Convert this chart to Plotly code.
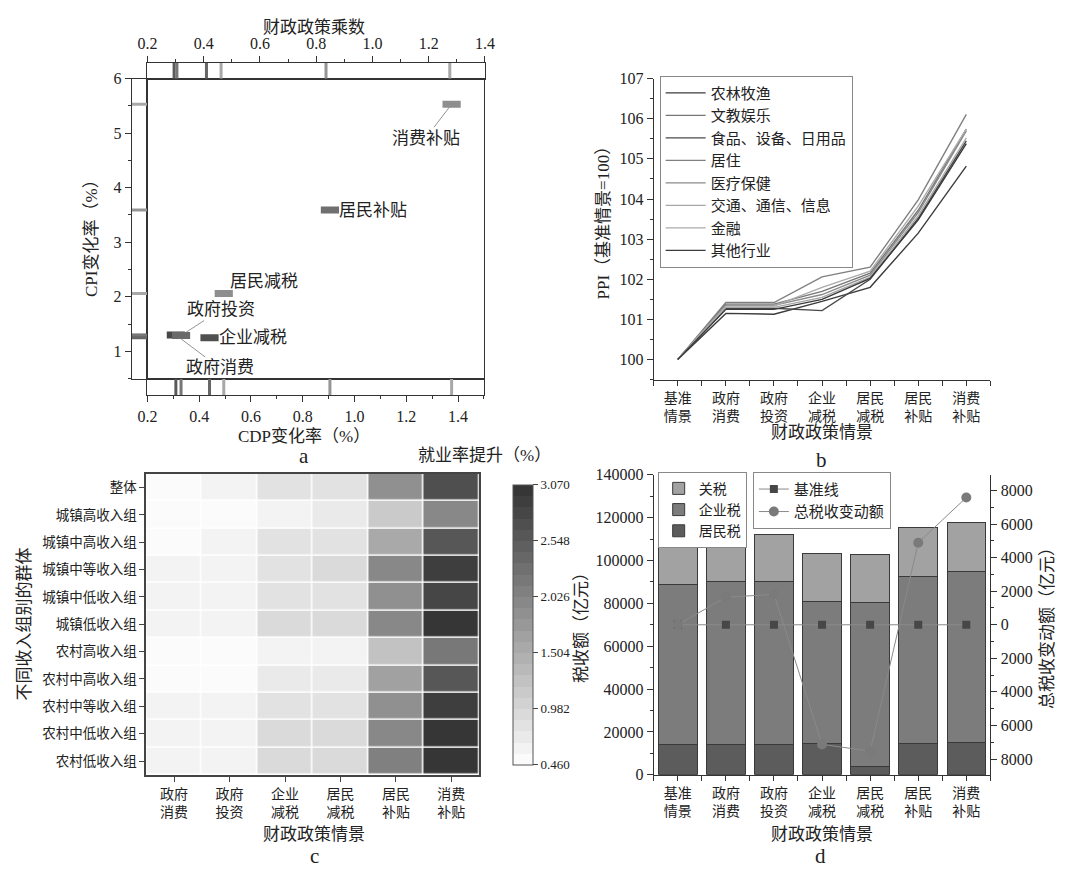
import plotly.graph_objects as go

W, H = 1071, 873
def fx(px): return px / W
def fy(py): return 1 - py / H

FONT = "Liberation Serif, Noto Sans CJK SC, serif"
INK = "#222222"
AX = "#333333"

# ---------------- panel a data ----------------
scen_a = ["政府消费", "政府投资", "企业减税", "居民减税", "居民补贴", "消费补贴"]
gdp_change = [0.31, 0.33, 0.44, 0.495, 0.905, 1.375]
cpi_change = [1.30, 1.29, 1.25, 2.06, 3.59, 5.53]
multiplier = [0.295, 0.305, 0.41, 0.462, 0.835, 1.275]
colors_a = ["#474747", "#6a6a6a", "#505050", "#8e8e8e", "#707070", "#8e8e8e"]
rug_colors = ["#5a5a5a", "#777777", "#666666", "#a8a8a8", "#959595", "#a8a8a8"]

# ---------------- panel b data ----------------
scen_full = ["基准<br>情景", "政府<br>消费", "政府<br>投资", "企业<br>减税", "居民<br>减税", "居民<br>补贴", "消费<br>补贴"]
sectors = ["农林牧渔", "文教娱乐", "食品、设备、日用品", "居住", "医疗保健", "交通、通信、信息", "金融", "其他行业"]
ppi = [
    [100, 101.15, 101.13, 101.45, 101.80, 103.15, 104.82],
    [100, 101.38, 101.38, 101.70, 102.15, 103.72, 105.74],
    [100, 101.27, 101.28, 101.22, 102.00, 103.52, 105.45],
    [100, 101.42, 101.42, 102.06, 102.30, 103.98, 106.11],
    [100, 101.35, 101.35, 101.62, 102.10, 103.66, 105.70],
    [100, 101.30, 101.30, 101.55, 102.05, 103.58, 105.52],
    [100, 101.33, 101.33, 101.80, 102.20, 103.82, 105.74],
    [100, 101.25, 101.25, 101.50, 102.02, 103.48, 105.38],
]
ppi_colors = ["#3c3c3c", "#767676", "#4a4a4a", "#808080", "#8a8a8a", "#a6a6a6", "#ababab", "#3a3a3a"]

# ---------------- panel c data ----------------
scen_c = ["政府<br>消费", "政府<br>投资", "企业<br>减税", "居民<br>减税", "居民<br>补贴", "消费<br>补贴"]
groups = ["整体", "城镇高收入组", "城镇中高收入组", "城镇中等收入组", "城镇中低收入组", "城镇低收入组",
          "农村高收入组", "农村中高收入组", "农村中等收入组", "农村中低收入组", "农村低收入组"]
employment = [
    [0.56, 0.59, 0.78, 0.81, 1.83, 2.74],
    [0.49, 0.50, 0.65, 0.68, 1.16, 1.96],
    [0.56, 0.59, 0.78, 0.79, 1.57, 2.61],
    [0.59, 0.59, 0.86, 0.91, 1.96, 2.92],
    [0.59, 0.59, 0.86, 0.86, 1.85, 2.81],
    [0.60, 0.60, 0.91, 0.91, 1.98, 2.97],
    [0.50, 0.49, 0.65, 0.66, 1.27, 2.20],
    [0.56, 0.56, 0.75, 0.75, 1.68, 2.64],
    [0.59, 0.59, 0.86, 0.86, 1.91, 2.94],
    [0.59, 0.61, 0.93, 0.93, 1.98, 3.03],
    [0.60, 0.63, 0.98, 0.95, 2.03, 3.07],
]
cb_ticks = [0.460, 0.982, 1.504, 2.026, 2.548, 3.070]

# ---------------- panel d data ----------------
tax_resident = [13900, 14200, 14200, 14600, 4000, 14600, 15100]
tax_enterprise = [74900, 75800, 75800, 66300, 76500, 77800, 79600]
tax_tariff = [21600, 22100, 22000, 22200, 22300, 22900, 23200]
baseline = [0, 0, 0, 0, 0, 0, 0]
total_change = [0, 1640, 1810, -7130, -7530, 4890, 7580]
left_ticks = list(range(0, 140001, 20000))
right_ticks = list(range(-8000, 8001, 2000))

fig = go.Figure()

# ---- panel a ----
fig.add_trace(go.Scatter(x=gdp_change, y=cpi_change, xaxis="x", yaxis="y", mode="markers",
                         marker=dict(symbol="line-ew", size=13, line=dict(width=7, color=colors_a)),
                         showlegend=False, hoverinfo="skip"))
fig.add_trace(go.Scatter(x=gdp_change, y=[0] * 6, xaxis="x2", yaxis="y2", mode="markers",
                         marker=dict(symbol="line-ns", size=17, line=dict(width=3, color=rug_colors)),
                         showlegend=False, hoverinfo="skip"))
fig.add_trace(go.Scatter(x=multiplier, y=[0] * 6, xaxis="x3", yaxis="y3", mode="markers",
                         marker=dict(symbol="line-ns", size=16, line=dict(width=3, color=rug_colors)),
                         showlegend=False, hoverinfo="skip"))
fig.add_trace(go.Scatter(x=[0] * 6, y=cpi_change, xaxis="x4", yaxis="y4", mode="markers",
                         marker=dict(symbol="line-ew", size=16, line=dict(width=3, color=rug_colors)),
                         showlegend=False, hoverinfo="skip"))

# ---- panel b ----
for name, vals, col in zip(sectors, ppi, ppi_colors):
    fig.add_trace(go.Scatter(x=list(range(7)), y=vals, xaxis="x5", yaxis="y5", mode="lines",
                             name=name, line=dict(color=col, width=1.4), legend="legend"))

# ---- panel c ----
N = 25
def gray(t):
    v = round(255 - t * (255 - 50))
    return f"rgb({v},{v},{v})"
cscale = []
for i in range(N):
    c = gray((i + 0.5) / N)
    cscale.append([i / N, c])
    cscale.append([(i + 1) / N, c])
fig.add_trace(go.Heatmap(z=employment, x=list(range(6)), y=list(range(11)), xaxis="x6", yaxis="y6",
                         zmin=0.46, zmax=3.07, colorscale=cscale, xgap=1.5, ygap=1.5,
                         showscale=True, hoverinfo="skip",
                         colorbar=dict(thickness=20, len=306 / H, lenmode="fraction",
                                       x=fx(502), xanchor="left", y=fy(476), yanchor="top",
                                       outlinewidth=1, outlinecolor="#555",
                                       tickmode="array", tickvals=cb_ticks,
                                       ticktext=[f"{v:.3f}" for v in cb_ticks],
                                       ticks="outside", ticklen=5, tickcolor="#444",
                                       tickfont=dict(size=13, family=FONT, color=INK))))

# ---- panel d ----
xs = list(range(7))
fig.add_trace(go.Bar(x=xs, y=tax_resident, name="居民税", xaxis="x7", yaxis="y7", width=0.8,
                     marker=dict(color="#5c5c5c", line=dict(color="#3a3a3a", width=1)), legend="legend2",
                     legendrank=3))
fig.add_trace(go.Bar(x=xs, y=tax_enterprise, name="企业税", xaxis="x7", yaxis="y7", width=0.8,
                     marker=dict(color="#7c7c7c", line=dict(color="#3a3a3a", width=1)), legend="legend2",
                     legendrank=2))
fig.add_trace(go.Bar(x=xs, y=tax_tariff, name="关税", xaxis="x7", yaxis="y7", width=0.8,
                     marker=dict(color="#a2a2a2", line=dict(color="#3a3a3a", width=1)), legend="legend2",
                     legendrank=1))
fig.add_trace(go.Scatter(x=xs, y=baseline, name="基准线", xaxis="x7", yaxis="y8", mode="lines+markers",
                         line=dict(color="#8a8a8a", width=1), marker=dict(symbol="square", size=8, color="#474747"),
                         legend="legend3"))
fig.add_trace(go.Scatter(x=xs, y=total_change, name="总税收变动额", xaxis="x7", yaxis="y8", mode="lines+markers",
                         line=dict(color="#8a8a8a", width=1), marker=dict(symbol="circle", size=10, color="#7a7a7a"),
                         legend="legend3"))

tickfont = dict(family=FONT, size=16, color=INK)
tickfont_s = dict(family=FONT, size=14, color=INK)

def frame(**kw):
    d = dict(showline=True, mirror=True, linecolor=AX, linewidth=1.2, showgrid=False, zeroline=False,
             ticks="", showticklabels=False, fixedrange=True)
    d.update(kw)
    return d

ab_ticks = [0.2, 0.4, 0.6, 0.8, 1.0, 1.2, 1.4]
layout = dict(
    width=W, height=H, margin=dict(l=0, r=0, t=0, b=0), autosize=False,
    paper_bgcolor="white", plot_bgcolor="white",
    font=dict(family=FONT, color=INK, size=16),
    barmode="stack", bargap=0.2,
    # panel a
    xaxis=frame(domain=[fx(140), fx(483)], range=[0.2, 1.5], anchor="y"),
    yaxis=frame(domain=[fy(378), fy(72)], range=[0.5, 6], anchor="x"),
    xaxis2=frame(domain=[fx(140), fx(483)], range=[0.2, 1.5], anchor="y2", ticks="outside", ticklen=6,
                 tickcolor=AX, showticklabels=True, tickmode="array", tickvals=ab_ticks,
                 ticktext=[f"{v:.1f}" for v in ab_ticks], tickfont=tickfont,
                 minor=dict(ticks="outside", ticklen=3, dtick=0.1, tick0=0.2, tickcolor=AX)),
    yaxis2=frame(domain=[fy(395), fy(378)], range=[-1, 1], anchor="x2"),
    xaxis3=frame(domain=[fx(140), fx(484)], range=[0.2, 1.4], anchor="y3", side="top", ticks="outside",
                 ticklen=6, tickcolor=AX, showticklabels=True, tickmode="array", tickvals=ab_ticks,
                 ticktext=[f"{v:.1f}" for v in ab_ticks], tickfont=tickfont,
                 minor=dict(ticks="outside", ticklen=3, dtick=0.1, tick0=0.2, tickcolor=AX)),
    yaxis3=frame(domain=[fy(72), fy(56)], range=[-1, 1], anchor="x3"),
    xaxis4=frame(domain=[fx(124), fx(140)], range=[-1, 1], anchor="y4"),
    yaxis4=frame(domain=[fy(378), fy(72)], range=[0.5, 6], anchor="x4", ticks="outside", ticklen=6,
                 tickcolor=AX, showticklabels=True, tickmode="array", tickvals=[1, 2, 3, 4, 5, 6],
                 tickfont=tickfont,
                 minor=dict(ticks="outside", ticklen=3, dtick=0.5, tick0=0.5, tickcolor=AX)),
    # panel b
    xaxis5=dict(domain=[fx(656), fx(999)], range=[-0.5, 6.5], anchor="y5", showline=True, linecolor=AX,
                linewidth=1.2, showgrid=False, zeroline=False, ticks="outside", ticklen=5, tickcolor=AX,
                tickmode="array", tickvals=list(range(7)), ticktext=scen_full, tickfont=tickfont_s,
                minor=dict(ticks="outside", ticklen=5, tickmode="array",
                           tickvals=[-0.5 + i for i in range(8)], tickcolor=AX)),
    yaxis5=dict(domain=[fy(379), fy(72)], range=[99.5, 107], anchor="x5", showline=True, linecolor=AX,
                linewidth=1.2, showgrid=False, zeroline=False, ticks="outside", ticklen=6, tickcolor=AX,
                tickmode="array", tickvals=list(range(100, 108)), tickfont=tickfont,
                minor=dict(ticks="outside", ticklen=3, dtick=0.5, tick0=99.5, tickcolor=AX)),
    # panel c
    xaxis6=dict(domain=[fx(139), fx(478)], range=[-0.5, 5.5], anchor="y6", showline=True, mirror=True,
                linecolor="#444", linewidth=2, showgrid=False, zeroline=False, ticks="outside", ticklen=5,
                tickcolor="#444", tickmode="array", tickvals=list(range(6)), ticktext=scen_c,
                tickfont=tickfont_s),
    yaxis6=dict(domain=[fy(782), fy(475)], range=[10.5, -0.5], anchor="x6", showline=True, mirror=True,
                linecolor="#444", linewidth=2, showgrid=False, zeroline=False, ticks="outside", ticklen=5,
                tickcolor="#444", tickmode="array", tickvals=list(range(11)), ticktext=groups,
                tickfont=dict(family=FONT, size=13.5, color=INK)),
    # panel d
    xaxis7=dict(domain=[fx(656), fx(999)], range=[-0.5, 6.5], anchor="y7", showline=True, linecolor=AX,
                linewidth=1.2, showgrid=False, zeroline=False, ticks="outside", ticklen=5, tickcolor=AX,
                tickmode="array", tickvals=list(range(7)), ticktext=scen_full, tickfont=tickfont_s,
                minor=dict(ticks="outside", ticklen=5, tickmode="array",
                           tickvals=[-0.5 + i for i in range(8)], tickcolor=AX)),
    yaxis7=dict(domain=[fy(782), fy(476)], range=[0, 140000], anchor="x7", showline=True, linecolor=AX,
                linewidth=1.2, showgrid=False, zeroline=False, ticks="outside", ticklen=6, tickcolor=AX,
                tickmode="array", tickvals=left_ticks, ticktext=[str(v) for v in left_ticks],
                tickfont=tickfont,
                minor=dict(ticks="outside", ticklen=3, dtick=10000, tick0=0, tickcolor=AX)),
    yaxis8=dict(overlaying="y7", side="right", anchor="x7", range=[-8940, 8940], showline=True,
                linecolor=AX, linewidth=1.2, showgrid=False, zeroline=False, ticks="outside", ticklen=6,
                tickcolor=AX, tickmode="array", tickvals=right_ticks,
                ticktext=[str(abs(v)) for v in right_ticks], tickfont=tickfont,
                minor=dict(ticks="outside", ticklen=3, dtick=1000, tick0=0, tickcolor=AX)),
    legend=dict(x=fx(662), y=fy(69), xanchor="left", yanchor="top", bgcolor="white", bordercolor="#888",
                borderwidth=1, font=dict(family=FONT, size=15, color=INK), tracegroupgap=0,
                itemwidth=40),
    legend2=dict(x=fx(660), y=fy(473), xanchor="left", yanchor="top", bgcolor="white", bordercolor="#888",
                 borderwidth=1, font=dict(family=FONT, size=14, color=INK), traceorder="normal"),
    legend3=dict(x=fx(757), y=fy(473), xanchor="left", yanchor="top", bgcolor="white", bordercolor="#888",
                 borderwidth=1, font=dict(family=FONT, size=15, color=INK)),
)
fig.update_layout(**layout)

ann = []
def txt(px, py, s, size=17, angle=0, xanchor="center"):
    ann.append(dict(x=fx(px), y=fy(py), xref="paper", yref="paper", text=s, showarrow=False,
                    textangle=angle, xanchor=xanchor, yanchor="middle",
                    font=dict(family=FONT, size=size, color=INK)))

txt(310, 20, "财政政策乘数")
txt(300, 437, "CDP变化率（%）")
txt(300, 457, "a", size=21)
txt(83, 230, "CPI变化率（%）", angle=-90)
txt(605, 215, "PPI（基准情景=100）", angle=-90)
txt(827, 433, "财政政策情景")
txt(827, 461, "b", size=21)
txt(484, 456, "就业率提升（%）")
txt(15, 628, "不同收入组别的群体", angle=-90)
txt(310, 843, "财政政策情景")
txt(310, 865, "c", size=21)
txt(583, 628, "税收额（亿元）", angle=-90)
txt(1058, 628, "总税收变动额（亿元）", angle=-90)
txt(827, 843, "财政政策情景")
txt(826, 865, "d", size=21)

# scenario labels in panel a
offsets = {"消费补贴": (-26, 34), "居民减税": (40, -12), "政府投资": (40, -26), "政府消费": (44, 33)}
for name, gx, cy in zip(scen_a, gdp_change, cpi_change):
    if name in offsets:
        ax_, ay_ = offsets[name]
        ann.append(dict(x=gx, y=cy, xref="x", yref="y", text=name, showarrow=True, arrowhead=0,
                        arrowwidth=0.8, arrowcolor="#777", ax=ax_, ay=ay_, standoff=4,
                        font=dict(family=FONT, size=17, color=INK)))
    else:
        ann.append(dict(x=gx, y=cy, xref="x", yref="y", text=name, showarrow=False, xanchor="left",
                        xshift=7, font=dict(family=FONT, size=17, color=INK)))

fig.update_layout(annotations=ann)

fig.write_html("out.html", config={"displayModeBar": False},
               post_script="document.body.style.margin='0';")
